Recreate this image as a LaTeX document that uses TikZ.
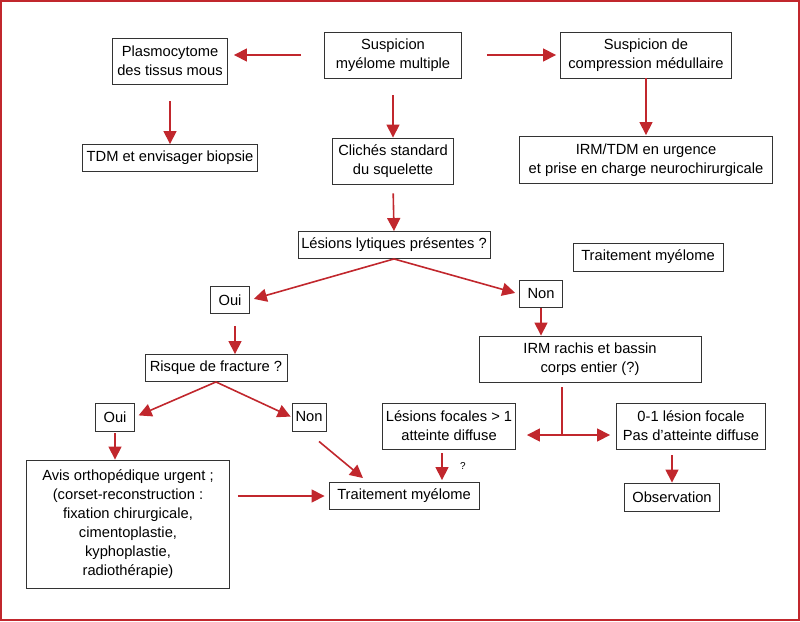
\documentclass[tikz,border=0pt]{standalone}
\usepackage{fontspec}
\setmainfont{Liberation Sans}
\usetikzlibrary{arrows.meta}

\definecolor{flowred}{HTML}{C1272D}
\definecolor{boxgray}{HTML}{333333}

\tikzset{
  box/.style={draw=boxgray, line width=0.9pt, align=center, inner sep=2pt,
    font=\fontsize{14.7}{19}\selectfont},
  arr/.style={draw=flowred, line width=1.6pt, -{Triangle[length=13pt,width=13pt]}},
}

\begin{document}
\begin{tikzpicture}[x=1pt,y=-1pt]

% Frame
\useasboundingbox (0,0) rectangle (800,621);
\draw[flowred, line width=2pt] (1,1) rectangle (799,620);

% Top row
\node[box, minimum width=137pt, minimum height=46pt] (susp) at (393,55) {Suspicion\\my\'elome multiple};
\node[box, minimum width=115pt, minimum height=46pt] (plasmo) at (170,61) {Plasmocytome\\des tissus mous};
\node[box, minimum width=171pt, minimum height=46pt] (compr) at (646,55) {Suspicion de\\compression m\'edullaire};

% Second row
\node[box, minimum width=175pt, minimum height=27pt] (tdm) at (170,158) {TDM et envisager biopsie};
\node[box, minimum width=121pt, minimum height=46pt] (cliches) at (393,161) {Clich\'es standard\\du squelette};
\node[box, minimum width=253pt, minimum height=47pt] (urg) at (646,160) {IRM/TDM en urgence\\et prise en charge neurochirurgicale};

% Lytic lesions
\node[box, minimum width=192pt, minimum height=27pt] (lytiq) at (394,245) {L\'esions lytiques pr\'esentes ?};
\node[box, minimum width=150pt, minimum height=28pt] (traitA) at (648,257) {Traitement my\'elome};
\node[box, minimum width=39pt, minimum height=27pt] (ouiA) at (230,300) {Oui};
\node[box, minimum width=43pt, minimum height=27pt] (nonA) at (541,294) {Non};

% Left branch
\node[box, minimum width=142pt, minimum height=27pt] (risque) at (216,368) {Risque de fracture ?};
\node[box, minimum width=39pt, minimum height=28pt] (ouiB) at (115,417) {Oui};
\node[box, minimum width=34pt, minimum height=28pt] (nonB) at (309,417) {Non};
\node[box, minimum width=203pt, minimum height=128pt] (avis) at (128,524) {Avis orthop\'edique urgent~;\\(corset-reconstruction~:\\fixation chirurgicale,\\cimentoplastie,\\kyphoplastie,\\radioth\'erapie)};
\node[box, minimum width=150pt, minimum height=27pt] (traitB) at (404,496) {Traitement my\'elome};

% Right branch
\node[box, minimum width=222pt, minimum height=46pt] (irmr) at (590,359) {IRM rachis et bassin\\corps entier (?)};
\node[box, minimum width=133pt, minimum height=46pt] (focal) at (449,426) {L\'esions focales > 1\\atteinte diffuse};
\node[box, minimum width=149pt, minimum height=46pt] (zero) at (691,426) {0-1 l\'esion focale\\Pas d'atteinte diffuse};
\node[box, minimum width=95pt, minimum height=28pt] (obs) at (672,497) {Observation};
\coordinate (fork) at (562,435);

% Connectors
\draw[arr, shorten <=23pt, shorten >=6pt] (susp.west) -- (susp.west -| plasmo.east);
\draw[arr, shorten <=25pt, shorten >=4pt] (susp.east) -- (compr.west);
\draw[arr, shorten <=17pt] (plasmo.south) -- (tdm.north);
\draw[arr, shorten <=17pt] (susp.south) -- (cliches.north);
\draw[arr, shorten >=1pt] (compr.south) -- (urg.north);
\draw[arr, shorten <=9pt] (cliches.south) -- (lytiq.north);
\draw[arr, shorten >=4pt] (lytiq.south) -- (ouiA.east);
\draw[arr, shorten >=4pt] (lytiq.south) -- (nonA.west);
\draw[arr, shorten <=12pt] ([xshift=5pt]ouiA.south) -- ([xshift=5pt]ouiA.south |- risque.north);
\draw[arr] (nonA.south) -- (nonA.south |- irmr.north);
\draw[arr, shorten >=4pt] (risque.south) -- (ouiB.east);
\draw[arr, shorten >=1pt] (risque.south) -- (nonB.west);
\draw[arr, shorten <=2pt] (ouiB.south) -- (ouiB.south |- avis.north);
\draw[arr] ([xshift=10pt,yshift=-10pt]nonB.south) -- ([xshift=-41pt,yshift=4pt]traitB.north);
\draw[arr, shorten <=8pt, shorten >=4pt] (avis.east |- traitB.west) -- (traitB.west);
\draw[flowred, line width=1.6pt, shorten <=5pt] (irmr.south -| fork) -- (fork);
\draw[arr, shorten >=11pt] (fork) -- (fork -| focal.east);
\draw[arr, shorten >=6pt] (fork) -- (fork -| zero.west);
\draw[arr, shorten <=4pt, shorten >=2pt] ([xshift=-7pt]focal.south) -- ([xshift=-7pt]focal.south |- traitB.north)
  node[midway, right=14pt, font=\fontsize{10}{10}\selectfont] (qmark) {?};
\draw[arr, shorten <=6pt] (obs.north |- zero.south) -- (obs.north);

\end{tikzpicture}
\end{document}
